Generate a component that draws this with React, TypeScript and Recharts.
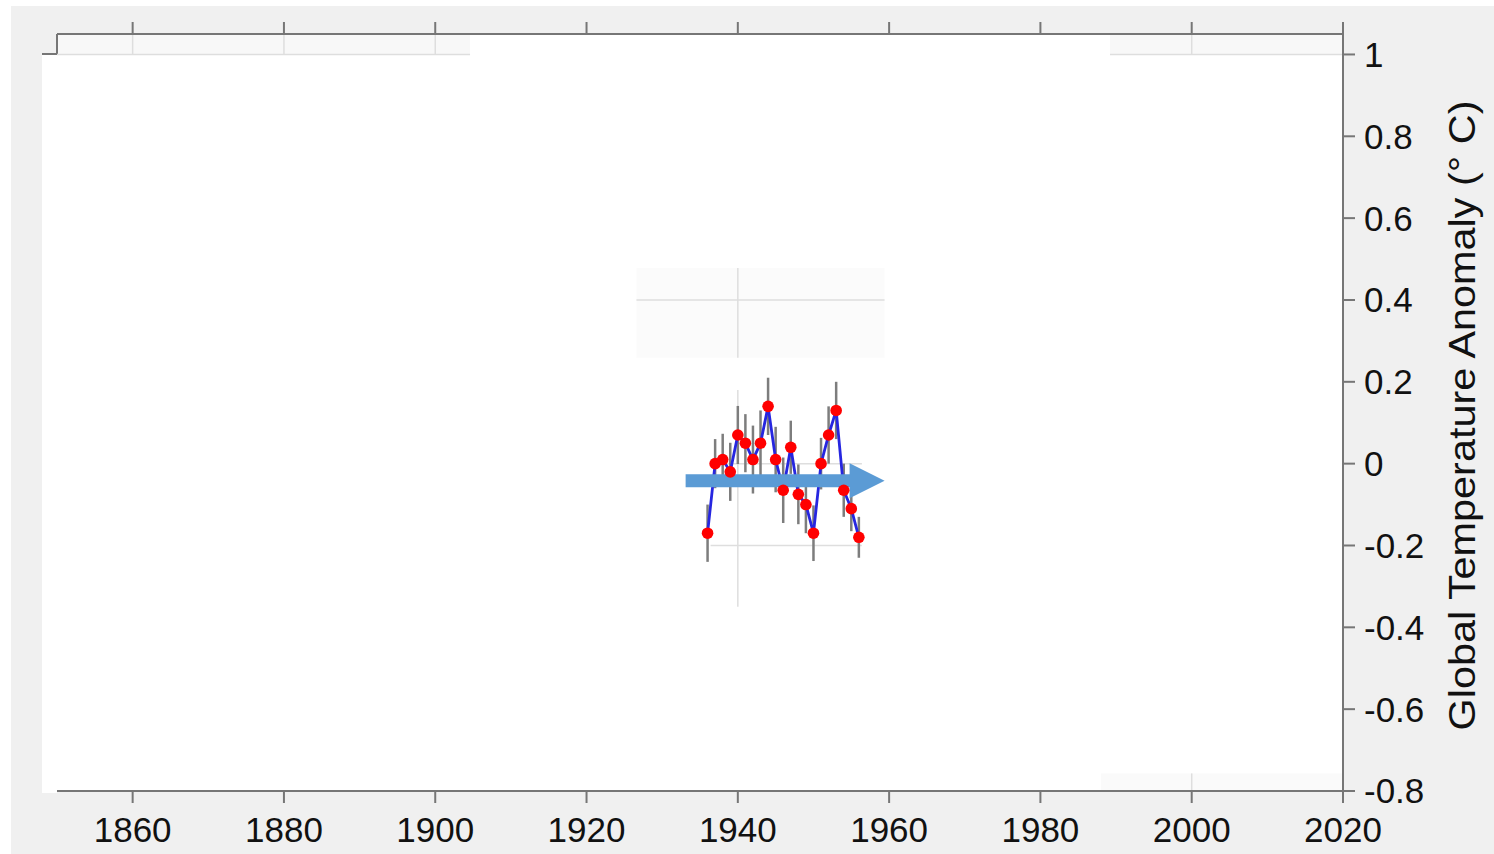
import React from "react";
import {
  ComposedChart,
  Line,
  XAxis,
  YAxis,
  ErrorBar,
  ReferenceArea,
  ReferenceLine,
  CartesianGrid,
} from "recharts";

// yearly anomalies visible in the uncovered window
const years = [
  1936, 1937, 1938, 1939, 1940, 1941, 1942, 1943, 1944, 1945, 1946,
  1947, 1948, 1949, 1950, 1951, 1952, 1953, 1954, 1955, 1956,
];
const anomaly = [
  -0.17, 0.0, 0.01, -0.02, 0.07, 0.05, 0.01, 0.05, 0.14, 0.01, -0.065,
  0.04, -0.075, -0.1, -0.17, 0.0, 0.07, 0.13, -0.065, -0.11, -0.18,
];
const errorHalf = [
  0.07, 0.06, 0.063, 0.071, 0.071, 0.071, 0.083, 0.08, 0.07, 0.08, 0.08,
  0.065, 0.073, 0.07, 0.068, 0.063, 0.07, 0.07, 0.065, 0.055, 0.05,
];

const xTicks = [1860, 1880, 1900, 1920, 1940, 1960, 1980, 2000, 2020];
const yTicks = [-0.8, -0.6, -0.4, -0.2, 0, 0.2, 0.4, 0.6, 0.8, 1];

const data = years.map((year, i) => ({
  year,
  anomaly: anomaly[i],
  err: errorHalf[i],
}));

const FONT = "'Liberation Sans', Arial, sans-serif";
const AXIS = "#767676";
const GRID = "#dedede";

const Arrow = (props: any) => {
  const { x1, y1, x2 } = props;
  const y = y1;
  const shaft = 6.5;
  const head = 17.5;
  const headLen = 35;
  const pts = [
    [x1, y - shaft],
    [x2 - headLen, y - shaft],
    [x2 - headLen, y - head],
    [x2, y],
    [x2 - headLen, y + head],
    [x2 - headLen, y + shaft],
    [x1, y + shaft],
  ]
    .map((p) => p.join(","))
    .join(" ");
  return <polygon points={pts} fill="#5b9bd5" />;
};

const AxisTitle = ({ viewBox }: any) => {
  const cx = viewBox.x + 119;
  const cy = viewBox.y + viewBox.height / 2 + 3;
  return (
    <text
      x={cx}
      y={cy}
      transform={`rotate(-90, ${cx}, ${cy})`}
      textAnchor="middle"
      dominantBaseline="central"
      fontSize={37}
      textLength={630}
      lengthAdjust="spacingAndGlyphs"
      fontFamily={FONT}
      fill="#111"
    >
      Global Temperature Anomaly (° C)
    </text>
  );
};

export default function App() {
  return (
    <div
      style={{
        position: "absolute",
        left: 11,
        top: 6,
        width: 1483,
        height: 848,
        background: "#f0f0f0",
      }}
    >
      <div
        style={{
          position: "absolute",
          left: 31,
          top: 47,
          width: 15,
          height: 738,
          background: "#fff",
          borderTop: `2px solid ${AXIS}`,
        }}
      />
      <ComposedChart
        width={1483}
        height={848}
        data={data}
        margin={{ top: 0, right: 0, bottom: 0, left: 46 }}
        style={{ position: "absolute", left: 0, top: 0 }}
      >
        <CartesianGrid fill="#fff" horizontal={false} vertical={false} />
        <XAxis
          xAxisId="top"
          orientation="top"
          type="number"
          dataKey="year"
          domain={[1850, 2020]}
          ticks={xTicks}
          height={28}
          tickSize={12}
          tickFormatter={() => ""}
          stroke={AXIS}
          strokeWidth={2}
          allowDataOverflow
        />
        <XAxis
          type="number"
          dataKey="year"
          domain={[1850, 2020]}
          ticks={xTicks}
          height={63}
          tickSize={12}
          tickMargin={14}
          stroke={AXIS}
          strokeWidth={2}
          tick={{ fill: "#111", fontSize: 35, fontFamily: FONT }}
          allowDataOverflow
        />
        <YAxis
          orientation="right"
          type="number"
          domain={[-0.8, 1.05]}
          ticks={yTicks}
          width={151}
          tickSize={12}
          tickMargin={9}
          stroke={AXIS}
          strokeWidth={2}
          tick={{ fill: "#111", fontSize: 35, fontFamily: FONT }}
          tickFormatter={(v: number) => String(Math.round(v * 10) / 10)}
          allowDataOverflow
          label={<AxisTitle />}
        />

        {/* strips of the old plot that show through */}
        <ReferenceArea x1={1850} x2={1904.6} y1={1} y2={1.05} fill="#f8f8f8" fillOpacity={1} stroke="none" ifOverflow="visible" />
        <ReferenceArea x1={1989.2} x2={2020} y1={1} y2={1.05} fill="#f8f8f8" fillOpacity={1} stroke="none" ifOverflow="visible" />
        <ReferenceArea x1={1926.6} x2={1959.4} y1={0.259} y2={0.478} fill="#fbfbfb" fillOpacity={1} stroke="none" />
        <ReferenceArea x1={1988} x2={2020} y1={-0.8} y2={-0.757} fill="#fafafa" fillOpacity={1} stroke="none" />

        <ReferenceLine segment={[{ x: 1850, y: 1 }, { x: 1850, y: 1.05 }]} stroke={AXIS} strokeWidth={2} ifOverflow="visible" />
        <ReferenceLine segment={[{ x: 1850, y: 1 }, { x: 1904.6, y: 1 }]} stroke={GRID} strokeWidth={1.5} />
        <ReferenceLine segment={[{ x: 1989.2, y: 1 }, { x: 2020, y: 1 }]} stroke={GRID} strokeWidth={1.5} />
        <ReferenceLine segment={[{ x: 1860, y: 1 }, { x: 1860, y: 1.05 }]} stroke={GRID} strokeWidth={1.5} />
        <ReferenceLine segment={[{ x: 1880, y: 1 }, { x: 1880, y: 1.05 }]} stroke={GRID} strokeWidth={1.5} />
        <ReferenceLine segment={[{ x: 1900, y: 1 }, { x: 1900, y: 1.05 }]} stroke={GRID} strokeWidth={1.5} />
        <ReferenceLine segment={[{ x: 2000, y: 1 }, { x: 2000, y: 1.05 }]} stroke={GRID} strokeWidth={1.5} />
        <ReferenceLine segment={[{ x: 2000, y: -0.8 }, { x: 2000, y: -0.757 }]} stroke={GRID} strokeWidth={1.5} />

        <ReferenceLine segment={[{ x: 1926.6, y: 0.4 }, { x: 1959.4, y: 0.4 }]} stroke={GRID} strokeWidth={1.5} />
        <ReferenceLine segment={[{ x: 1940, y: 0.259 }, { x: 1940, y: 0.478 }]} stroke={GRID} strokeWidth={1.5} />
        <ReferenceLine segment={[{ x: 1936.4, y: 0 }, { x: 1956.4, y: 0 }]} stroke={GRID} strokeWidth={1.5} />
        <ReferenceLine segment={[{ x: 1936.4, y: -0.2 }, { x: 1956.4, y: -0.2 }]} stroke={GRID} strokeWidth={1.5} />
        <ReferenceLine segment={[{ x: 1940, y: 0.18 }, { x: 1940, y: -0.35 }]} stroke={GRID} strokeWidth={1.5} />

        <Line
          dataKey="anomaly"
          stroke="#2626e0"
          strokeWidth={2.8}
          dot={{ r: 5.8, fill: "#ff0000", stroke: "none" }}
          isAnimationActive={false}
        >
          <ErrorBar dataKey="err" width={0} stroke="#7d7d7d" strokeWidth={2.5} direction="y" />
        </Line>

        <ReferenceLine
          segment={[{ x: 1933.1, y: -0.0415 }, { x: 1959.4, y: -0.0415 }]}
          shape={<Arrow />}
          ifOverflow="visible"
        />
      </ComposedChart>
    </div>
  );
}
